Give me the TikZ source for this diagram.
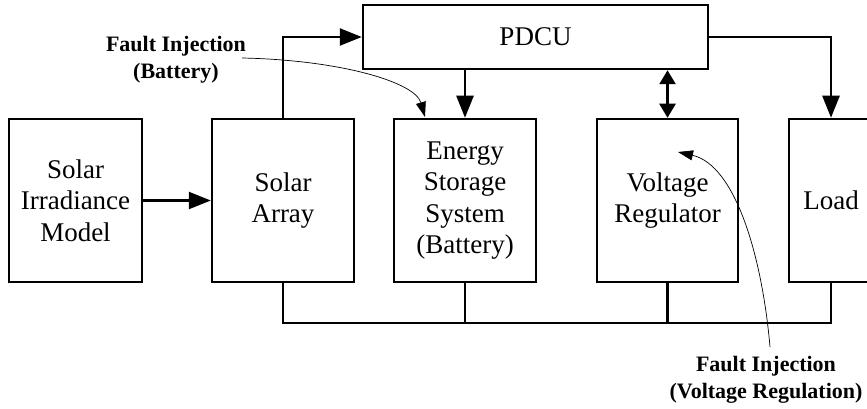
\documentclass[tikz,border=0pt]{standalone}
\usepackage{fontspec}
\setmainfont{Liberation Serif}
\usetikzlibrary{arrows.meta}
\begin{document}
\begin{tikzpicture}[x=1pt,y=-1pt,
  blk/.style={draw, line width=2.5pt, inner sep=0pt, align=center, font=\fontsize{27}{31.5}\selectfont},
  wire/.style={line width=2.5pt},
  bigarrow/.style={line width=2.5pt, -{Triangle[length=22pt,width=17pt]}},
  dblarrow/.style={line width=2.5pt, {Triangle[length=14pt,width=16pt]}-{Triangle[length=14pt,width=16pt]}},
  faultarrow/.style={line width=0.7pt, -{Triangle[length=15pt,width=10pt]}},
  lbl/.style={align=center, inner sep=0pt, font=\fontsize{22}{27}\selectfont\bfseries}
]
\useasboundingbox (0,0) rectangle (867,409);
\node[blk, minimum width=133pt, minimum height=163pt] (sim) at (75.5,200.5) {Solar\\Irradiance\\Model};
\node[blk, minimum width=142pt, minimum height=163pt] (sa) at (283,200.5) {Solar\\Array};
\node[blk, minimum width=142pt, minimum height=163pt] (ess) at (465,200.5) {Energy\\Storage\\System\\(Battery)};
\node[blk, minimum width=141pt, minimum height=163pt] (vr) at (667.5,200.5) {Voltage\\Regulator};
\node[blk, minimum width=84pt, minimum height=163pt] (load) at (831,200.5) {Load};
\node[blk, minimum width=345pt, minimum height=64pt] (pdcu) at (535.5,37) {PDCU};

\draw[bigarrow] (sim.east) -- (sa.west);
\draw[bigarrow] (sa.north) |- (pdcu.west);
\draw[bigarrow] (ess.north |- pdcu.south) -- (ess.north);
\draw[dblarrow] (vr.north |- pdcu.south) -- (vr.north);
\draw[bigarrow] (pdcu.east) -| (load.north);

\coordinate (busy) at (0,323);
\draw[wire] (sa.south) -- (sa.south |- busy) -- (load.south |- busy) -- (load.south);
\draw[wire] (ess.south) -- (ess.south |- busy);
\draw[wire] (vr.south) -- (vr.south |- busy);

\node[lbl] (fb) at (176,60) {Fault Injection\\(Battery)};
\coordinate (fbs) at (242,58);
\coordinate (fbt) at (425,117);
\draw[faultarrow] (fbs) .. controls (340,60) and (415,82) .. (fbt);

\node[lbl] (fv) at (766,380) {Fault Injection\\(Voltage Regulation)};
\coordinate (fvs) at (770,347);
\coordinate (fvt) at (678,152);
\draw[faultarrow] (fvs) .. controls (762,255) and (735,165) .. (fvt);
\end{tikzpicture}
\end{document}
